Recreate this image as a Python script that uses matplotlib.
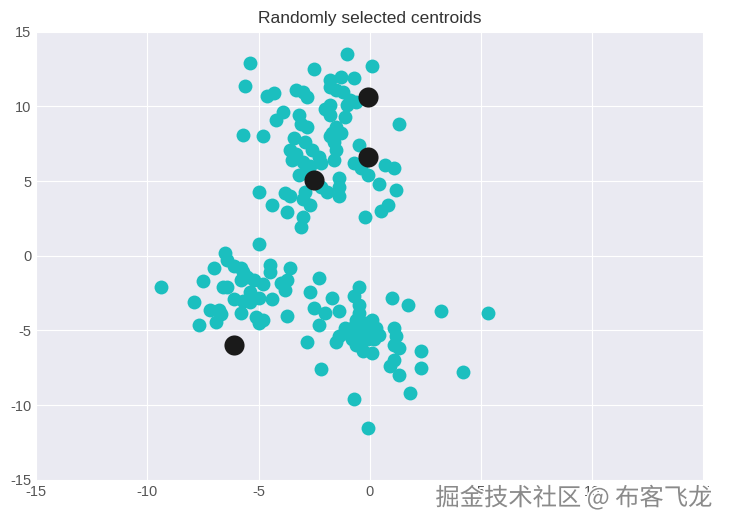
import matplotlib
matplotlib.use("Agg")
import matplotlib.pyplot as plt
import matplotlib.patheffects as pe
import numpy as np

# points
x_pts = [
    -1.0, -5.4, 0.1, -2.5, -5.6, -4.6, -4.3, -3.3, -3.0, -2.8,
    -1.3, -0.7, -1.8, -1.8, -1.5, -1.2, -0.9, -0.6, -1.0, -1.8,
    -2.0, -1.8, -1.1, 1.3, -1.5, -1.7, -1.3, -3.9, -4.2, -3.2,
    -3.1, -2.8, -5.7, -4.8, -3.4, -3.6, -2.9, -3.3, -3.5, -3.0,
    -2.6, -2.3, -2.2, -3.2, -2.9, -2.7, -5.0, -3.8, -3.6, -2.9,
    -4.4, -3.0, -2.7, -3.7, -3.0, -3.1, -1.8, -1.6, -1.5, -1.6,
    -0.5, -0.7, -0.4, -0.1, 0.7, 1.1, -1.4, -2.2, -1.9, -1.4,
    -1.4, 0.4, 1.2, 0.8, 0.5, -0.2,
    # lower group
    -5.0, -9.4, -6.5, -6.4, -6.1, -5.8, -5.7, -7.0, -7.5, -5.8,
    -5.5, -5.2, -4.8, -4.5, -4.5, -3.6, -4.0, -3.7, -3.8, -6.6,
    -6.4, -5.4, -5.0, -6.1, -5.7, -5.4, -4.4, -7.9, -7.2, -6.8,
    -6.7, -5.8, -5.1, -4.8, -5.0, -3.7, -7.7, -6.9,
    -2.3, -2.7, -1.7, -2.5, -2.0, -1.4, -2.3, -2.8, -2.2, -0.5,
    -0.7, -0.5, -0.5, -1.1, -1.4, -1.5, -0.9, -0.8, -0.5, -0.4,
    -0.2, 0.1, 0.3, 0.0, -0.1, 0.2, -0.3, 0.1, -0.4, -0.6,
    -0.8, -0.3, 0.4, -0.6, 1.0, 1.7, 3.2, 5.3, 1.1, 1.2,
    1.1, 1.3, 1.1, 0.9, 1.3, 2.3, 2.3, 4.2, 1.8, -0.7,
    -0.1,
]
y_pts = [
    13.5, 12.9, 12.7, 12.5, 11.4, 10.7, 10.9, 11.1, 11.0, 10.6,
    12.0, 11.9, 11.8, 11.3, 11.1, 11.0, 10.4, 10.3, 10.1, 10.1,
    9.8, 9.4, 9.3, 8.8, 8.6, 8.2, 8.2, 9.6, 9.1, 9.4,
    8.8, 8.6, 8.1, 8.0, 7.9, 7.1, 7.6, 6.8, 6.4, 6.3,
    7.1, 6.6, 6.2, 5.4, 5.6, 6.0, 4.3, 4.2, 4.0, 4.3,
    3.4, 3.8, 3.4, 2.9, 2.6, 1.9, 8.0, 7.6, 7.1, 6.4,
    7.4, 6.2, 5.9, 5.4, 6.1, 5.9, 5.2, 4.6, 4.3, 4.6,
    4.0, 4.8, 4.4, 3.4, 3.0, 2.6,
    # lower group
    0.8, -2.1, 0.2, -0.3, -0.7, -0.8, -1.1, -0.8, -1.7, -1.6,
    -1.4, -1.6, -1.9, -0.6, -1.1, -0.8, -1.8, -1.6, -2.3, -2.1,
    -2.1, -2.4, -2.8, -2.9, -3.0, -3.1, -2.9, -3.1, -3.6, -3.6,
    -3.9, -3.8, -4.1, -4.3, -4.5, -4.0, -4.6, -4.4,
    -1.5, -2.4, -2.8, -3.5, -3.8, -3.7, -4.6, -5.8, -7.6, -2.1,
    -2.7, -3.3, -3.8, -4.8, -5.4, -5.8, -5.3, -5.6, -5.4, -5.8,
    -4.5, -4.3, -4.8, -5.2, -5.6, -5.6, -6.4, -6.5, -5.0, -4.3,
    -4.8, -4.9, -5.3, -6.0, -2.8, -3.3, -3.7, -3.8, -4.8, -5.4,
    -6.0, -6.2, -7.0, -7.4, -8.0, -6.4, -7.5, -7.8, -9.2, -9.6,
    -11.5,
]

# centroids
cx = [-0.1, -0.1, -2.5, -6.1]
cy = [10.6, 6.6, 5.1, -6.0]

plt.style.use("seaborn-v0_8-darkgrid")
plt.rcParams["font.family"] = ["Liberation Sans", "DejaVu Sans"]
plt.rcParams["axes.unicode_minus"] = False

fig = plt.figure(figsize=(7.38, 5.21), dpi=100)
ax = fig.add_axes([0.049, 0.079, 0.904, 0.86])
ax.scatter(x_pts, y_pts, c="#1bbfbf", s=100, linewidths=0)
ax.scatter(cx, cy, c="#1a1a1a", s=210, linewidths=0)
ax.set_xlim(-15, 15)
ax.set_ylim(-15, 15)
ax.set_xticks(np.arange(-15, 16, 5))
ax.set_yticks(np.arange(-15, 16, 5))
ax.tick_params(labelsize=10.5, labelcolor="#555555")
ax.set_title("Randomly selected centroids", fontsize=12.5, color="#333333")

# watermark
fig.text(0.59, 0.03, "掘金技术社区 @ 布客飞龙", fontsize=17.5, color="#8a8a8a",
         family=["Noto Sans CJK SC", "DejaVu Sans"],
         path_effects=[pe.withStroke(linewidth=2.5, foreground="white")])

fig.savefig("out.png", dpi=100)
